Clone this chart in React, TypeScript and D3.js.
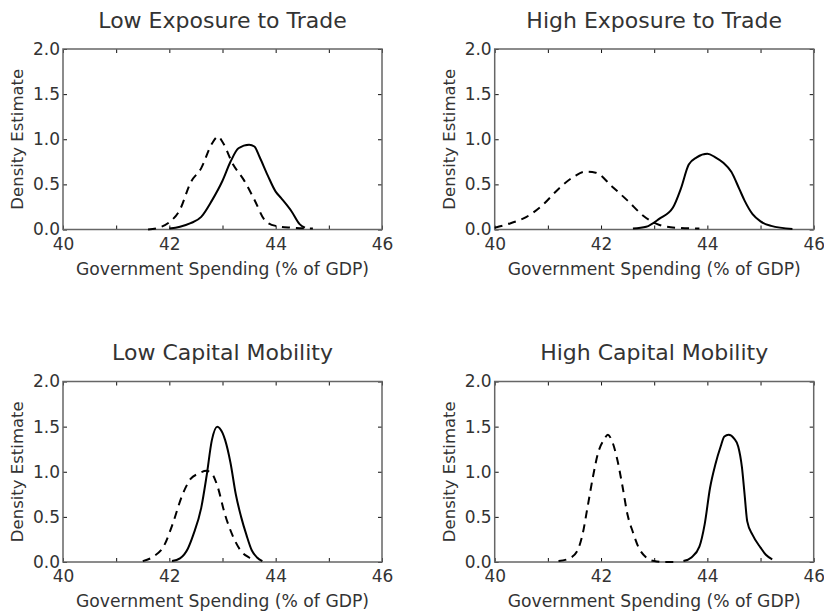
import * as d3 from 'd3';
import React, { useRef, useEffect } from 'react';

// panel titles, left-to-right, top-to-bottom
const titles = ['Low Exposure to Trade', 'High Exposure to Trade', 'Low Capital Mobility', 'High Capital Mobility'];

const xTicks = [40, 41, 42, 43, 44, 45, 46];
const xLabels = [40, 42, 44, 46];
const yTicks = [0, 0.5, 1.0, 1.5, 2.0];

// government spending (x) and density (y) per panel, solid = high, dashed = low
const lowTradeSolidX = [42.0, 42.2, 42.4, 42.6, 42.8, 43.0, 43.15, 43.3, 43.5, 43.6, 43.7, 43.85, 44.0, 44.1, 44.3, 44.45, 44.55];
const lowTradeSolidY = [0.01, 0.03, 0.07, 0.14, 0.32, 0.54, 0.75, 0.9, 0.94, 0.92, 0.8, 0.6, 0.42, 0.35, 0.2, 0.06, 0.02];
const lowTradeDashX = [41.6, 41.8, 42.0, 42.2, 42.4, 42.6, 42.8, 42.92, 43.0, 43.2, 43.4, 43.6, 43.8, 44.0, 44.3, 44.7];
const lowTradeDashY = [0.0, 0.02, 0.08, 0.22, 0.52, 0.68, 0.95, 1.03, 0.97, 0.72, 0.55, 0.33, 0.1, 0.04, 0.02, 0.01];

const highTradeSolidX = [42.6, 42.85, 43.1, 43.35, 43.5, 43.65, 43.8, 44.0, 44.15, 44.3, 44.45, 44.6, 44.7, 44.85, 45.0, 45.2, 45.6];
const highTradeSolidY = [0.01, 0.03, 0.12, 0.24, 0.45, 0.72, 0.8, 0.84, 0.8, 0.74, 0.64, 0.45, 0.32, 0.17, 0.09, 0.04, 0.005];
const highTradeDashX = [40.0, 40.3, 40.6, 40.9, 41.2, 41.5, 41.7, 41.9, 42.2, 42.5, 42.8, 43.1, 43.4, 43.85];
const highTradeDashY = [0.02, 0.07, 0.14, 0.27, 0.45, 0.59, 0.64, 0.63, 0.48, 0.32, 0.15, 0.05, 0.02, 0.01];

const lowCapSolidX = [42.05, 42.2, 42.35, 42.45, 42.6, 42.7, 42.8, 42.9, 43.0, 43.05, 43.15, 43.25, 43.35, 43.45, 43.55, 43.65, 43.75];
const lowCapSolidY = [0.01, 0.04, 0.15, 0.3, 0.6, 0.95, 1.35, 1.5, 1.43, 1.35, 1.1, 0.75, 0.5, 0.3, 0.13, 0.05, 0.01];
const lowCapDashX = [41.5, 41.7, 41.9, 42.05, 42.25, 42.4, 42.55, 42.7, 42.8, 42.9, 43.05, 43.2, 43.35, 43.5, 43.6];
const lowCapDashY = [0.01, 0.06, 0.18, 0.4, 0.75, 0.92, 0.98, 1.01, 0.98, 0.85, 0.52, 0.28, 0.12, 0.05, 0.02];

const highCapSolidX = [43.55, 43.7, 43.85, 43.95, 44.05, 44.15, 44.25, 44.32, 44.4, 44.5, 44.58, 44.65, 44.7, 44.75, 44.85, 45.0, 45.1, 45.22];
const highCapSolidY = [0.01, 0.05, 0.17, 0.42, 0.82, 1.08, 1.28, 1.39, 1.41, 1.37, 1.28, 1.05, 0.75, 0.45, 0.3, 0.16, 0.08, 0.03];
const highCapDashX = [41.2, 41.4, 41.55, 41.65, 41.75, 41.85, 41.95, 42.05, 42.13, 42.2, 42.3, 42.4, 42.5, 42.6, 42.7, 42.85, 43.0, 43.2, 43.4];
const highCapDashY = [0.01, 0.04, 0.12, 0.3, 0.62, 0.95, 1.22, 1.35, 1.41, 1.35, 1.15, 0.85, 0.52, 0.33, 0.17, 0.05, 0.01, 0.0, 0.0];

const panels = [
    { solid: [lowTradeSolidX, lowTradeSolidY], dash: [lowTradeDashX, lowTradeDashY] },
    { solid: [highTradeSolidX, highTradeSolidY], dash: [highTradeDashX, highTradeDashY] },
    { solid: [lowCapSolidX, lowCapSolidY], dash: [lowCapDashX, lowCapDashY] },
    { solid: [highCapSolidX, highCapSolidY], dash: [highCapDashX, highCapDashY] },
];

const FONT = '"DejaVu Sans", sans-serif';
const TEXT = '#333';

function App() {
    const ref = useRef<SVGSVGElement>(null);
    const width = 824;
    const height = 613;
    const pw = 319;
    const ph = 180.5;
    const origins = [[63, 49], [494.7, 49], [63, 381.5], [494.7, 381.5]];

    useEffect(() => {
        const svg = d3.select(ref.current);
        svg.selectAll('*').remove();

        const x = d3.scaleLinear().domain([40, 46]).range([0, pw]);
        const y = d3.scaleLinear().domain([0, 2]).range([ph, 0]);

        panels.forEach((p, i) => {
            const [ox, oy] = origins[i];
            const g = svg.append('g').attr('transform', `translate(${ox}, ${oy})`);

            g.append('text')
                .attr('x', pw / 2).attr('y', -21.5)
                .attr('text-anchor', 'middle')
                .style('font-family', FONT).style('font-size', '22px')
                .attr('fill', TEXT)
                .text(titles[i]);

            // inward ticks on all four sides
            const fmtX = (d: any) => (xLabels.includes(d) ? String(d) : '');
            const bottom = g.append('g').attr('transform', `translate(0, ${ph})`)
                .call(d3.axisBottom(x).tickValues(xTicks).tickSize(-4).tickPadding(8).tickFormat(fmtX));
            const top = g.append('g')
                .call(d3.axisTop(x).tickValues(xTicks).tickSize(-4).tickFormat(() => ''));
            const left = g.append('g')
                .call(d3.axisLeft(y).tickValues(yTicks).tickSize(-4).tickPadding(3).tickFormat(d3.format('.1f')));
            const right = g.append('g').attr('transform', `translate(${pw}, 0)`)
                .call(d3.axisRight(y).tickValues(yTicks).tickSize(-4).tickFormat(() => ''));

            [bottom, top, left, right].forEach(a => {
                a.select('.domain').remove();
                a.selectAll('line').attr('stroke', '#111').attr('stroke-width', 1);
                a.selectAll('text')
                    .style('font-family', FONT).style('font-size', '17px')
                    .attr('fill', TEXT);
            });

            g.append('rect')
                .attr('width', pw).attr('height', ph)
                .attr('fill', 'none').attr('stroke', '#666').attr('stroke-width', 1.5);

            g.append('text')
                .attr('x', pw / 2).attr('y', ph + 45)
                .attr('text-anchor', 'middle')
                .style('font-family', FONT).style('font-size', '17.2px')
                .attr('fill', TEXT)
                .text('Government Spending (% of GDP)');

            g.append('text')
                .attr('transform', `translate(-40, ${ph / 2}) rotate(-90)`)
                .attr('text-anchor', 'middle')
                .style('font-family', FONT).style('font-size', '16.5px')
                .attr('fill', TEXT)
                .text('Density Estimate');

            const drawCurve = (xs: number[], ys: number[], dashed: boolean) => {
                const l = d3.line<number>()
                    .x(d => x(xs[d]))
                    .y(d => y(ys[d]))
                    .curve(d3.curveMonotoneX);
                g.append('path')
                    .attr('d', l(d3.range(xs.length)))
                    .attr('fill', 'none')
                    .attr('stroke', '#000')
                    .attr('stroke-width', 2)
                    .attr('stroke-dasharray', dashed ? '8,6' : null);
            };
            drawCurve(p.dash[0], p.dash[1], true);
            drawCurve(p.solid[0], p.solid[1], false);
        });
    }, []);

    return (
        <div className="chart">
            <svg ref={ref} width={width} height={height}
                style={{ position: 'absolute', left: 0, top: 0, background: '#fff' }}>
            </svg>
        </div>
    );
}

export default App;
